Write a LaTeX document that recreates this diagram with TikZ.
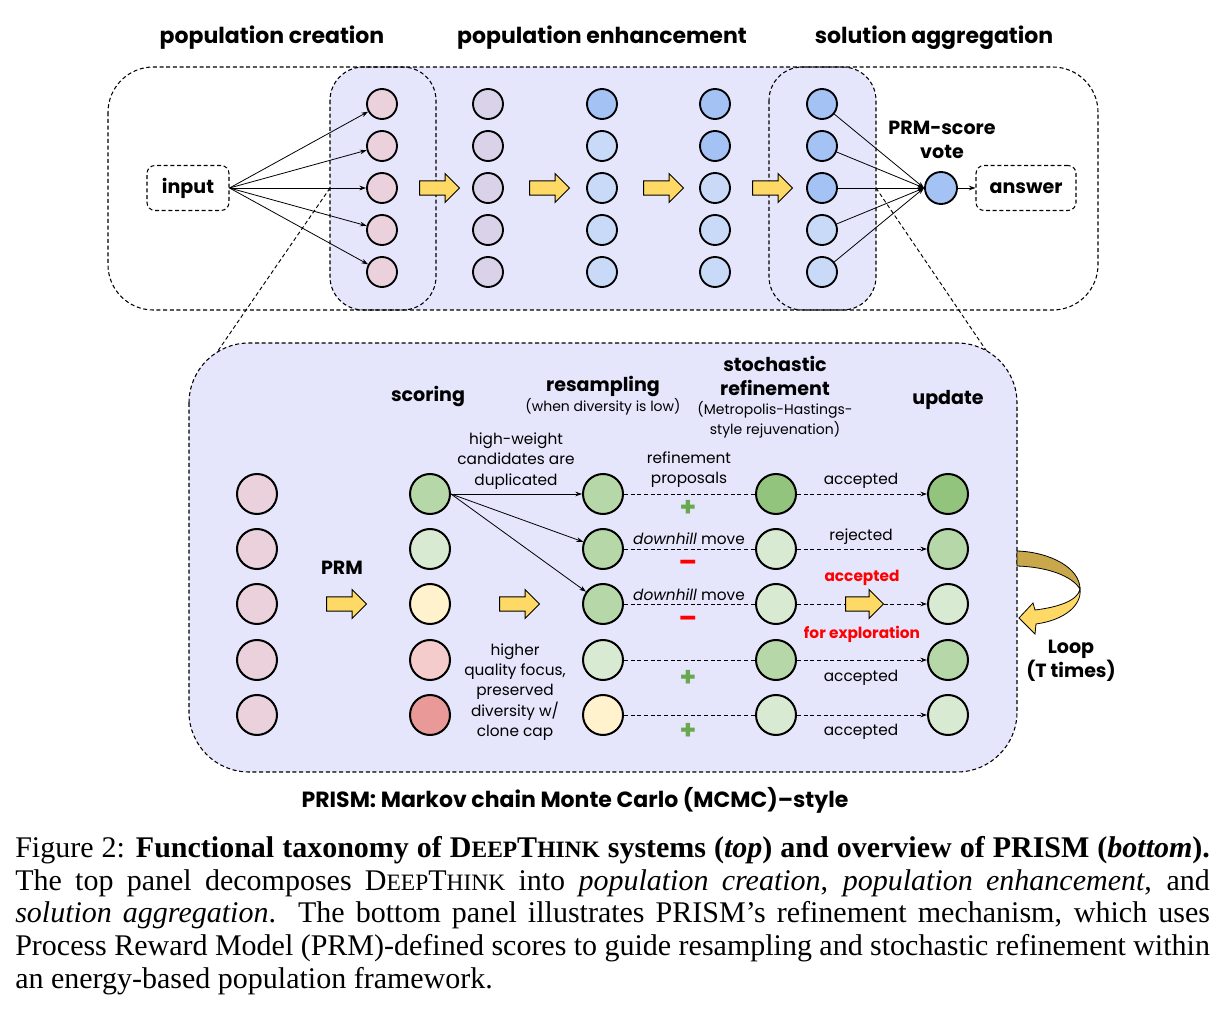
\documentclass[tikz,border=0pt]{standalone}
\usepackage{fontspec}
\usepackage{graphicx}
\setsansfont{Poppins}
\newfontfamily\capfont{Liberation Serif}
\usetikzlibrary{arrows.meta,shapes.arrows}

\definecolor{panelfill}{RGB}{229,229,251}
\definecolor{popink}{HTML}{EAD1DC}
\definecolor{poplilac}{HTML}{D9D2E9}
\definecolor{popblue}{HTML}{A4C2F4}
\definecolor{poplightblue}{HTML}{C9DAF8}
\definecolor{scgreen}{HTML}{B6D7A8}
\definecolor{sclightgreen}{HTML}{D9EAD3}
\definecolor{scdarkgreen}{HTML}{93C47D}
\definecolor{scyellow}{HTML}{FFF2CC}
\definecolor{sclightred}{HTML}{F4CCCC}
\definecolor{scred}{HTML}{EA9999}
\definecolor{arrowyellow}{HTML}{FFD966}
\definecolor{loopgold}{RGB}{200,168,75}
\definecolor{plusgreen}{HTML}{6AA84F}

\newcommand{\headfont}{\sffamily\bfseries\fontsize{16.5}{19}\selectfont}
\newcommand{\stepfont}{\sffamily\bfseries\fontsize{14.3}{18}\selectfont}
\newcommand{\notefont}{\sffamily\fontsize{11.5}{15.2}\selectfont}
\newcommand{\subnotefont}{\sffamily\fontsize{10.5}{15}\selectfont}
\newcommand{\capsmall}{\fontsize{17.6pt}{20pt}\selectfont}
\newcommand{\deepthink}{D{\capsmall EEP}T{\capsmall HINK}}

\begin{document}
\begin{tikzpicture}[x=0.75pt,y=0.75pt,yscale=-1,xscale=1,
  popnode/.style={circle,draw,line width=1.4pt,minimum size=22.5pt,inner sep=0pt},
  scnode/.style={circle,draw,line width=1.5pt,minimum size=30pt,inner sep=0pt},
  dashbox/.style={draw,line width=0.8pt,dash pattern=on 3pt off 2pt},
  fatarrow/.style={single arrow,draw,fill=arrowyellow,line width=0.7pt,inner sep=5pt,
    minimum height=30pt,minimum width=0pt,single arrow head extend=5.5pt},
  thinarrow/.style={-{Stealth[length=5pt,width=3.5pt]},line width=0.6pt},
  dasharrow/.style={-{Stealth[length=5pt,width=3.5pt]},line width=0.7pt,dash pattern=on 3pt off 2pt},
  dashline/.style={line width=0.7pt,dash pattern=on 3pt off 2pt}]
\useasboundingbox (0,0) rectangle (1225,1012);

%% ---------------- top panel ----------------
% Text Node
\node[font=\headfont] (hcreate) at (272,38) {population creation};
\node[font=\headfont] (henhance) at (602,38) {population enhancement};
\node[font=\headfont] (haggr) at (934,38) {solution aggregation};

%Shape: Rounded Rect [shaded]
\fill[panelfill,rounded corners=25pt] (330,67) rectangle (876,310);
\draw[dashbox,rounded corners=34pt] (108,67) rectangle (1098,310);
\draw[dashbox,rounded corners=25pt] (330,67) rectangle (436,310);
\draw[dashbox,rounded corners=25pt] (769,67) rectangle (876,310);

% input / answer
\node[dashbox,rounded corners=6pt,font=\stepfont,minimum width=61.5pt,minimum height=33.75pt] (input) at (188,188) {input};
\node[dashbox,rounded corners=6pt,font=\stepfont,minimum width=75pt,minimum height=33.75pt] (answer) at (1026,188) {answer};

%Shape: Circle [creation]
\node[popnode,fill=popink] (cre1) at (382,104) {};
\node[popnode,fill=popink] (cre2) at (382,146) {};
\node[popnode,fill=popink] (cre3) at (382,188) {};
\node[popnode,fill=popink] (cre4) at (382,230) {};
\node[popnode,fill=popink] (cre5) at (382,272) {};
%Shape: Circle [enhancement]
\node[popnode,fill=poplilac] (enha1) at (488,104) {};
\node[popnode,fill=poplilac] (enha2) at (488,146) {};
\node[popnode,fill=poplilac] (enha3) at (488,188) {};
\node[popnode,fill=poplilac] (enha4) at (488,230) {};
\node[popnode,fill=poplilac] (enha5) at (488,272) {};
\node[popnode,fill=popblue] (enhb1) at (602,104) {};
\node[popnode,fill=poplightblue] (enhb2) at (602,146) {};
\node[popnode,fill=poplightblue] (enhb3) at (602,188) {};
\node[popnode,fill=poplightblue] (enhb4) at (602,230) {};
\node[popnode,fill=poplightblue] (enhb5) at (602,272) {};
\node[popnode,fill=popblue] (enhc1) at (715,104) {};
\node[popnode,fill=popblue] (enhc2) at (715,146) {};
\node[popnode,fill=poplightblue] (enhc3) at (715,188) {};
\node[popnode,fill=poplightblue] (enhc4) at (715,230) {};
\node[popnode,fill=poplightblue] (enhc5) at (715,272) {};
%Shape: Circle [aggregation]
\node[popnode,fill=popblue] (agg1) at (822,104) {};
\node[popnode,fill=popblue] (agg2) at (822,146) {};
\node[popnode,fill=popblue] (agg3) at (822,188) {};
\node[popnode,fill=poplightblue] (agg4) at (822,230) {};
\node[popnode,fill=poplightblue] (agg5) at (822,272) {};
\node[popnode,fill=popblue,minimum size=24pt] (vote) at (941,188) {};
\node[font=\stepfont,align=center] (votelbl) at (942,140) {PRM-score\\vote};

% block arrows
\node[fatarrow] (step1) at (436,188) {};
\node[fatarrow] (step2) at (546,188) {};
\node[fatarrow] (step3) at (660,188) {};
\node[fatarrow] (step4) at (769,188) {};

%Straight Lines
\draw[thinarrow] (input.east) -- (cre1);
\draw[thinarrow] (input.east) -- (cre2);
\draw[thinarrow] (input.east) -- (cre3);
\draw[thinarrow] (input.east) -- (cre4);
\draw[thinarrow] (input.east) -- (cre5);
\draw[thinarrow] (agg1) -- (vote.west);
\draw[thinarrow] (agg2) -- (vote.west);
\draw[thinarrow] (agg3) -- (vote.west);
\draw[thinarrow] (agg4) -- (vote.west);
\draw[thinarrow] (agg5) -- (vote.west);
\draw[thinarrow] (vote) -- (answer);

% zoom lines
\coordinate (zoomLtop) at (330,188);
\coordinate (zoomLbot) at (191,390);
\coordinate (zoomRtop) at (876,188);
\coordinate (zoomRbot) at (1013,390);
\draw[dashline] (zoomLtop) -- (zoomLbot);
\draw[dashline] (zoomRtop) -- (zoomRbot);

%% ---------------- bottom panel ----------------
\draw[dashbox,fill=panelfill,rounded corners=45pt] (189,343) rectangle (1017,772);

% Text Node
\node[font=\stepfont] (hscore) at (428,396) {scoring};
\node[font=\stepfont] (hresamp) at (603,386) {resampling};
\node[font=\subnotefont] (hresampsub) at (603,407) {(when diversity is low)};
\node[font=\stepfont,align=center] (hrefine) at (775,376) {stochastic\\refinement};
\node[font=\subnotefont,align=center] (hrefinesub) at (775,420) {(Metropolis-Hastings-\\style rejuvenation)};
\node[font=\stepfont] (hupdate) at (948,400) {update};
\node[font=\stepfont] (prmlbl) at (342,568) {PRM};

%Shape: Circle [raw]
\node[scnode,fill=popink] (raw1) at (257,494) {};
\node[scnode,fill=popink] (raw2) at (257,549) {};
\node[scnode,fill=popink] (raw3) at (257,604) {};
\node[scnode,fill=popink] (raw4) at (257,660) {};
\node[scnode,fill=popink] (raw5) at (257,715) {};
%Shape: Circle [scored]
\node[scnode,fill=scgreen] (scr1) at (430,494) {};
\node[scnode,fill=sclightgreen] (scr2) at (430,549) {};
\node[scnode,fill=scyellow] (scr3) at (430,604) {};
\node[scnode,fill=sclightred] (scr4) at (430,660) {};
\node[scnode,fill=scred] (scr5) at (430,715) {};
%Shape: Circle [resampled]
\node[scnode,fill=scgreen] (res1) at (603,494) {};
\node[scnode,fill=scgreen] (res2) at (603,549) {};
\node[scnode,fill=scgreen] (res3) at (603,604) {};
\node[scnode,fill=sclightgreen] (res4) at (603,660) {};
\node[scnode,fill=scyellow] (res5) at (603,715) {};
%Shape: Circle [refined]
\node[scnode,fill=scdarkgreen] (ref1) at (776,494) {};
\node[scnode,fill=sclightgreen] (ref2) at (776,549) {};
\node[scnode,fill=sclightgreen] (ref3) at (776,604) {};
\node[scnode,fill=scgreen] (ref4) at (776,660) {};
\node[scnode,fill=sclightgreen] (ref5) at (776,715) {};
%Shape: Circle [updated]
\node[scnode,fill=scdarkgreen] (upd1) at (948,494) {};
\node[scnode,fill=scgreen] (upd2) at (948,549) {};
\node[scnode,fill=sclightgreen] (upd3) at (948,604) {};
\node[scnode,fill=scgreen] (upd4) at (948,660) {};
\node[scnode,fill=sclightgreen] (upd5) at (948,715) {};

% block arrows
\node[fatarrow] (prmstep) at (343,604) {};
\node[fatarrow] (resstep) at (516,604) {};

%Straight Lines
\draw[thinarrow] (scr1.east) -- (res1);
\draw[thinarrow] (scr1.east) -- (res2);
\draw[thinarrow] (scr1.east) -- (res3);
\draw[dashline] (res1) -- (ref1);
\draw[dashline] (res2) -- (ref2);
\draw[dashline] (res3) -- (ref3);
\draw[dashline] (res4) -- (ref4);
\draw[dashline] (res5) -- (ref5);
\draw[dasharrow] (ref1) -- (upd1);
\draw[dasharrow] (ref2) -- (upd2);
\draw[dasharrow] (ref3) -- (upd3);
\draw[dasharrow] (ref4) -- (upd4);
\draw[dasharrow] (ref5) -- (upd5);
\node[fatarrow,minimum height=28.5pt] (explstep) at (861,604) {};

% Text Node
\node[font=\notefont,align=center] (dupnote) at (516,461) {high-weight\\candidates are\\duplicated};
\node[font=\notefont,align=center] (propnote) at (689,470) {refinement\\proposals};
\node[font=\notefont,align=center] (capnote) at (515,692) {higher\\quality focus,\\preserved\\diversity w/\\clone cap};
\node[font=\notefont] (move2) at (689,539) {\textit{downhill} move};
\node[font=\notefont] (move3) at (689,595) {\textit{downhill} move};
\node[font=\notefont] (acc1) at (861,481) {accepted};
\node[font=\notefont] (rej2) at (861,537) {rejected};
\node[font=\notefont\bfseries,text=red] (acc3) at (862,578) {accepted};
\node[font=\notefont\bfseries,text=red] (expl3) at (862,634) {for exploration};
\node[font=\notefont] (acc4) at (861,678) {accepted};
\node[font=\notefont] (acc5) at (861,732) {accepted};
\node[font=\sffamily\bfseries\fontsize{20}{20}\selectfont,text=plusgreen] (plus1) at (688,508) {+};
\node[font=\sffamily\bfseries\fontsize{20}{20}\selectfont,text=red] (minus2) at (688,566) {--};
\node[font=\sffamily\bfseries\fontsize{20}{20}\selectfont,text=red] (minus3) at (688,622) {--};
\node[font=\sffamily\bfseries\fontsize{20}{20}\selectfont,text=plusgreen] (plus4) at (688,678) {+};
\node[font=\sffamily\bfseries\fontsize{20}{20}\selectfont,text=plusgreen] (plus5) at (688,731) {+};

% loop arrow
\filldraw[fill=loopgold,line width=0.6pt] (1017,551) .. controls (1050,552) and (1080,568) .. (1080,589) .. controls (1072,576) and (1048,567) .. (1017,566) -- cycle;
\filldraw[fill=arrowyellow,line width=0.6pt] (1080,589) .. controls (1078,600) and (1060,607) .. (1035,610) -- (1033,603) -- (1019,618) -- (1035,634) -- (1036,624) .. controls (1065,620) and (1082,605) .. (1080,589) -- cycle;
\node[font=\stepfont,align=center] (looplbl) at (1071,661) {Loop\\(T times)};

\node[font=\headfont] (prismlbl) at (575,800) {PRISM: Markov chain Monte Carlo (MCMC)--style};

%% ---------------- caption ----------------
\node[anchor=north west,inner sep=0pt,text width=896pt,align=justify,
  font=\capfont\fontsize{22.5}{24.6}\selectfont] (caption) at (15,836)
  {Figure 2: \textbf{Functional taxonomy of \deepthink{} systems (\textit{top}) and overview of PRISM (\textit{bottom}).}\linebreak
  The top panel decomposes \deepthink{} into \textit{population creation}, \textit{population enhancement}, and\linebreak
  \textit{solution aggregation}.\ \ The bottom panel illustrates PRISM’s refinement mechanism, which uses\linebreak
  Process Reward Model (PRM)-defined scores to guide resampling and stochastic refinement within\linebreak
  an energy-based population framework.};
\end{tikzpicture}
\end{document}
